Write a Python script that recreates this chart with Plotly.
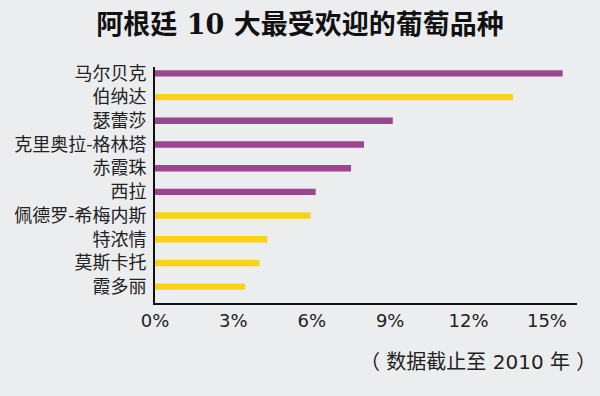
import plotly.graph_objects as go

categories = ["马尔贝克", "伯纳达", "瑟蕾莎", "克里奥拉-格林塔", "赤霞珠", "西拉",
              "佩德罗-希梅内斯", "特浓情", "莫斯卡托", "霞多丽"]
values = [15.6, 13.7, 9.1, 8.0, 7.5, 6.15, 5.95, 4.3, 4.0, 3.45]
grape_type = ["red", "white", "red", "red", "red", "red", "white", "white", "white", "white"]
tick_vals = [0, 3, 6, 9, 12, 15]
tick_text = ["0%", "3%", "6%", "9%", "12%", "15%"]

PURPLE = "#9c4590"
YELLOW = "#f9d416"
BG = "#ecedef"
colors = [PURPLE if t == "red" else YELLOW for t in grape_type]

fig = go.Figure(go.Bar(
    x=values, y=categories, orientation="h",
    marker=dict(color=colors, line=dict(width=0)),
    width=0.27, hoverinfo="x+y",
))

fig.update_layout(
    width=600, height=396,
    paper_bgcolor=BG, plot_bgcolor=BG,
    margin=dict(l=155, r=23, t=67, b=93),
    showlegend=False,
    title=dict(
        text="<b>阿根廷 10 大最受欢迎的葡萄品种</b>",
        x=0.5, xanchor="center", y=1 - 25 / 396, yanchor="middle",
        font=dict(family="DejaVu Serif, Noto Sans CJK SC", size=27, color="#111111"),
    ),
    xaxis=dict(
        range=[0, 16.15], tickvals=tick_vals, ticktext=tick_text,
        showline=True, linecolor="#111111", linewidth=2,
        showgrid=False, zeroline=False, ticks="",
        tickfont=dict(family="DejaVu Sans", size=18, color="#222222"),
        fixedrange=True,
    ),
    yaxis=dict(
        range=[9.69, -0.27],
        showline=True, linecolor="#111111", linewidth=2,
        showgrid=False, zeroline=False, ticks="",
        ticklabelstandoff=3,
        tickfont=dict(family="Noto Sans CJK SC", size=18, color="#222222"),
        fixedrange=True,
    ),
    annotations=[dict(
        text="（ 数据截止至 2010 年 ）", xref="paper", yref="paper",
        x=(598 - 155) / 422, y=-(362 - 303) / 236,
        xanchor="right", yanchor="middle", showarrow=False,
        font=dict(family="DejaVu Sans, Noto Sans CJK SC", size=20, color="#222222"),
    )],
)

fig.write_html(
    "out.html",
    config={"displayModeBar": False},
    post_script="document.body.style.margin='0';document.body.style.background='" + BG + "';",
)
